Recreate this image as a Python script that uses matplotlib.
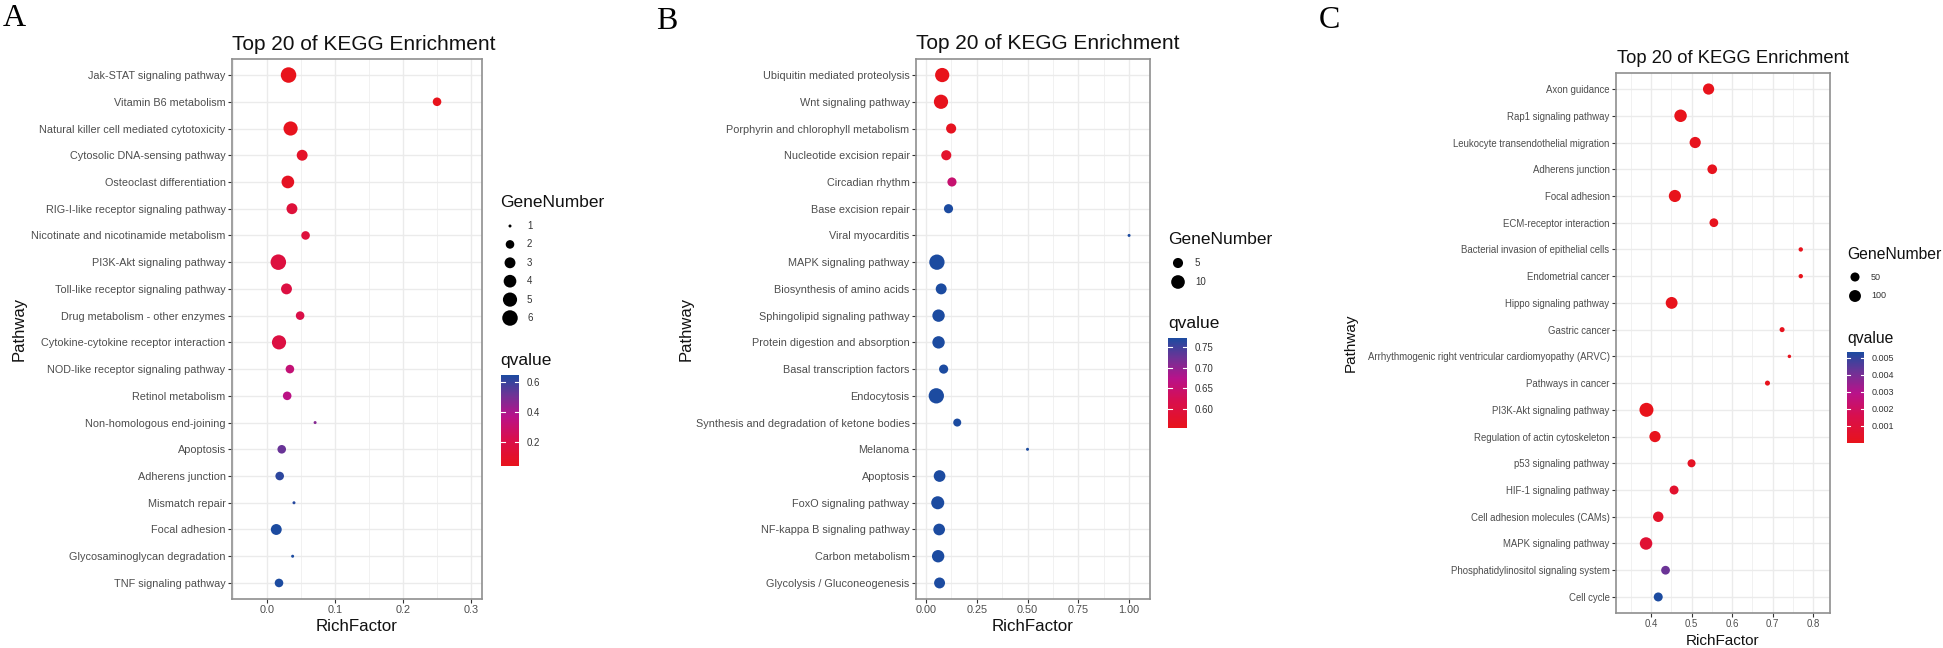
import numpy as np
import matplotlib
matplotlib.use('Agg')
import matplotlib.pyplot as plt
from matplotlib.colors import LinearSegmentedColormap, Normalize
from matplotlib.cm import ScalarMappable
from matplotlib.ticker import MultipleLocator, FormatStrFormatter

plt.rcParams['font.family'] = ['Liberation Sans', 'DejaVu Sans']

# ---------------- data: panel A ----------------
a_pathway = ["Jak-STAT signaling pathway", "Vitamin B6 metabolism",
             "Natural killer cell mediated cytotoxicity", "Cytosolic DNA-sensing pathway",
             "Osteoclast differentiation", "RIG-I-like receptor signaling pathway",
             "Nicotinate and nicotinamide metabolism", "PI3K-Akt signaling pathway",
             "Toll-like receptor signaling pathway", "Drug metabolism - other enzymes",
             "Cytokine-cytokine receptor interaction", "NOD-like receptor signaling pathway",
             "Retinol metabolism", "Non-homologous end-joining", "Apoptosis",
             "Adherens junction", "Mismatch repair", "Focal adhesion",
             "Glycosaminoglycan degradation", "TNF signaling pathway"]
a_rich = [0.032, 0.250, 0.035, 0.052, 0.031, 0.037, 0.057, 0.017, 0.029, 0.049,
          0.018, 0.034, 0.030, 0.071, 0.022, 0.019, 0.040, 0.014, 0.038, 0.018]
a_genes = [6, 2, 5, 3, 4, 3, 2, 6, 3, 2, 5, 2, 2, 1, 2, 2, 1, 3, 1, 2]
a_qvalue = [0.04, 0.04, 0.05, 0.09, 0.07, 0.15, 0.16, 0.17, 0.18, 0.20,
            0.18, 0.32, 0.36, 0.47, 0.52, 0.62, 0.63, 0.647, 0.647, 0.647]

# ---------------- data: panel B ----------------
b_pathway = ["Ubiquitin mediated proteolysis", "Wnt signaling pathway",
             "Porphyrin and chlorophyll metabolism", "Nucleotide excision repair",
             "Circadian rhythm", "Base excision repair", "Viral myocarditis",
             "MAPK signaling pathway", "Biosynthesis of amino acids",
             "Sphingolipid signaling pathway", "Protein digestion and absorption",
             "Basal transcription factors", "Endocytosis",
             "Synthesis and degradation of ketone bodies", "Melanoma", "Apoptosis",
             "FoxO signaling pathway", "NF-kappa B signaling pathway",
             "Carbon metabolism", "Glycolysis / Gluconeogenesis"]
b_rich = [0.080, 0.074, 0.124, 0.100, 0.128, 0.111, 1.000, 0.054, 0.075, 0.062,
          0.062, 0.087, 0.051, 0.154, 0.500, 0.067, 0.058, 0.065, 0.060, 0.067]
b_genes = [11, 11, 5, 5, 4, 4, 1, 13, 6, 8, 8, 4, 13, 3, 1, 7, 9, 7, 8, 6]
b_qvalue = [0.553, 0.556, 0.560, 0.575, 0.650, 0.773, 0.773, 0.773, 0.773, 0.773,
            0.773, 0.773, 0.773, 0.773, 0.773, 0.773, 0.773, 0.773, 0.773, 0.773]

# ---------------- data: panel C ----------------
c_pathway = ["Axon guidance", "Rap1 signaling pathway",
             "Leukocyte transendothelial migration", "Adherens junction",
             "Focal adhesion", "ECM-receptor interaction",
             "Bacterial invasion of epithelial cells", "Endometrial cancer",
             "Hippo signaling pathway", "Gastric cancer",
             "Arrhythmogenic right ventricular cardiomyopathy (ARVC)",
             "Pathways in cancer", "PI3K-Akt signaling pathway",
             "Regulation of actin cytoskeleton", "p53 signaling pathway",
             "HIF-1 signaling pathway", "Cell adhesion molecules (CAMs)",
             "MAPK signaling pathway", "Phosphatidylinositol signaling system", "Cell cycle"]
c_rich = [0.542, 0.473, 0.509, 0.551, 0.459, 0.555, 0.769, 0.769, 0.451, 0.723,
          0.741, 0.687, 0.389, 0.410, 0.500, 0.457, 0.418, 0.388, 0.436, 0.418]
c_genes = [86, 113, 86, 59, 105, 46, 12, 12, 99, 14,
           11, 14, 150, 86, 37, 49, 72, 113, 46, 49]
c_qvalue = [0.00005, 0.00001, 0.00010, 0.00010, 0.00001, 0.00010, 0.00005, 0.00005, 0.00005, 0.00010,
            0.00010, 0.00005, 0.0, 0.00005, 0.00030, 0.00060, 0.00050, 0.00080, 0.00420, 0.00534]

W, H = 1943, 648
cmap_q = LinearSegmentedColormap.from_list(
    'qv', [(0, '#E8131B'), (0.3, '#D80F4E'), (0.55, '#B8128A'), (0.78, '#6E3396'), (1, '#1C4BA0')])

fig = plt.figure(figsize=(W / 100, H / 100), dpi=100)
# overlay in pixel coords for titles, legends, panel letters
ov = fig.add_axes([0, 0, 1, 1], zorder=10)
ov.set_xlim(0, W)
ov.set_ylim(H, 0)
ov.axis('off')


def px_rect(l, t, r, b):
    return [l / W, 1 - b / H, (r - l) / W, (b - t) / H]


def dot_size(g, gmin, gmax, dmin, dmax):
    """ggplot-like area scale: diameter (px) grows with sqrt of rescaled value"""
    g = np.asarray(g, dtype=float)
    d = dmin + (dmax - dmin) * np.sqrt((g - gmin) / (gmax - gmin))
    return (d * 0.72) ** 2


def kegg_panel(names, rich, genes, qvalue, rect, xlim, xmajor, xfmt, size_rng, fs):
    ax = fig.add_axes(px_rect(*rect))
    y = np.arange(len(names))
    norm = Normalize(min(qvalue), max(qvalue))
    ax.scatter(rich, y, s=dot_size(genes, min(genes), max(genes), *size_rng),
               c=qvalue, cmap=cmap_q, norm=norm, linewidths=0, zorder=3)
    ax.set_ylim(len(names) - 0.4, -0.6)
    ax.set_xlim(*xlim)
    ax.set_yticks(y)
    ax.set_yticklabels(names)
    ax.xaxis.set_major_locator(MultipleLocator(xmajor))
    ax.xaxis.set_minor_locator(MultipleLocator(xmajor / 2))
    ax.xaxis.set_major_formatter(FormatStrFormatter(xfmt))
    ax.grid(which='major', color='#ebebeb', lw=1.0)
    ax.grid(which='minor', axis='x', color='#f1f1f1', lw=0.7)
    ax.set_axisbelow(True)
    ax.tick_params(which='major', length=2.8, width=0.8, color='#333333',
                   labelcolor='#4d4d4d', labelsize=fs, pad=1.8)
    ax.tick_params(which='minor', length=0)
    for sp in ax.spines.values():
        sp.set_color('#8f8f8f')
        sp.set_linewidth(1.2)
    return ax, norm


def q_colorbar(norm, rect, ticks, fmt, fs):
    cax = fig.add_axes(px_rect(*rect))
    cb = fig.colorbar(ScalarMappable(norm=norm, cmap=cmap_q), cax=cax)
    cb.outline.set_visible(False)
    cb.set_ticks(ticks, labels=[fmt % v for v in ticks])
    cax.tick_params(length=0, labelsize=fs, labelcolor='#333333', pad=5.8)
    for v in ticks:
        cax.plot([0, 0.2], [v, v], transform=cax.get_yaxis_transform(), color='white', lw=0.8)
        cax.plot([0.8, 1], [v, v], transform=cax.get_yaxis_transform(), color='white', lw=0.8)


def size_legend(x, y_title, x_dot, y0, dy, x_lab, breaks, genes, size_rng, fs_title, fs_lab):
    ov.text(x, y_title, 'GeneNumber', fontsize=fs_title, va='baseline', color='#111111')
    ys = y0 + dy * np.arange(len(breaks))
    ov.scatter(np.full(len(breaks), x_dot), ys,
               s=dot_size(breaks, min(genes), max(genes), *size_rng), color='black', linewidths=0)
    for yy, b in zip(ys, breaks):
        ov.text(x_lab, yy, str(b), fontsize=fs_lab, va='center', color='#333333')


# ---- panel A
ax_a, norm_a = kegg_panel(a_pathway, a_rich, a_genes, a_qvalue, (232, 59, 482, 599),
                          (-0.051, 0.316), 0.1, '%.1f', (3, 15.5), 7.8)
ov.text(3, 26, 'A', family='Liberation Serif', fontsize=23, va='baseline')
ov.text(232, 50, 'Top 20 of KEGG Enrichment', fontsize=15, va='baseline', color='#111111')
ov.text(19, 329, 'Pathway', fontsize=12, rotation=90, ha='center', va='center', color='#111111')
ov.text(357, 631, 'RichFactor', fontsize=12.2, ha='center', va='baseline', color='#111111')
size_legend(500, 207, 510, 226, 18.4, 527, [1, 2, 3, 4, 5, 6], a_genes, (3, 15.5), 12.5, 7)
ov.text(500, 365, 'qvalue', fontsize=12.5, va='baseline', color='#111111')
q_colorbar(norm_a, (501, 375, 519, 466), [0.2, 0.4, 0.6], '%.1f', 7)

# ---- panel B
ax_b, norm_b = kegg_panel(b_pathway, b_rich, b_genes, b_qvalue, (916, 59, 1150, 599),
                          (-0.049, 1.103), 0.25, '%.2f', (3, 15.3), 7.8)
ov.text(656, 29, 'B', family='Liberation Serif', fontsize=23, va='baseline')
ov.text(916, 49, 'Top 20 of KEGG Enrichment', fontsize=15, va='baseline', color='#111111')
ov.text(686, 329, 'Pathway', fontsize=12, rotation=90, ha='center', va='center', color='#111111')
ov.text(1033, 631, 'RichFactor', fontsize=12.2, ha='center', va='baseline', color='#111111')
size_legend(1168, 244, 1178, 263, 19, 1195, [5, 10], b_genes, (3, 15.3), 12.5, 7)
ov.text(1168, 328, 'qvalue', fontsize=12.5, va='baseline', color='#111111')
q_colorbar(norm_b, (1168, 338, 1187, 428), [0.60, 0.65, 0.70, 0.75], '%.2f', 7)

# ---- panel C
ax_c, norm_c = kegg_panel(c_pathway, c_rich, c_genes, c_qvalue, (1616, 73, 1830, 613),
                          (0.314, 0.841), 0.1, '%.1f', (3.5, 14), 6.9)
ov.text(1319, 28, 'C', family='Liberation Serif', fontsize=23, va='baseline')
ov.text(1617, 63, 'Top 20 of KEGG Enrichment', fontsize=13.2, va='baseline', color='#111111')
ov.text(1351, 343, 'Pathway', fontsize=11, rotation=90, ha='center', va='center', color='#111111')
ov.text(1723, 645, 'RichFactor', fontsize=11, ha='center', va='baseline', color='#111111')
size_legend(1847, 259, 1855, 277, 19, 1871, [50, 100], c_genes, (3.5, 14), 11.3, 6.5)
ov.text(1847, 343, 'qvalue', fontsize=11.3, va='baseline', color='#111111')
q_colorbar(norm_c, (1847, 352, 1864, 443), [0.001, 0.002, 0.003, 0.004, 0.005], '%.3f', 6.5)

fig.savefig('out.png', dpi=100)
